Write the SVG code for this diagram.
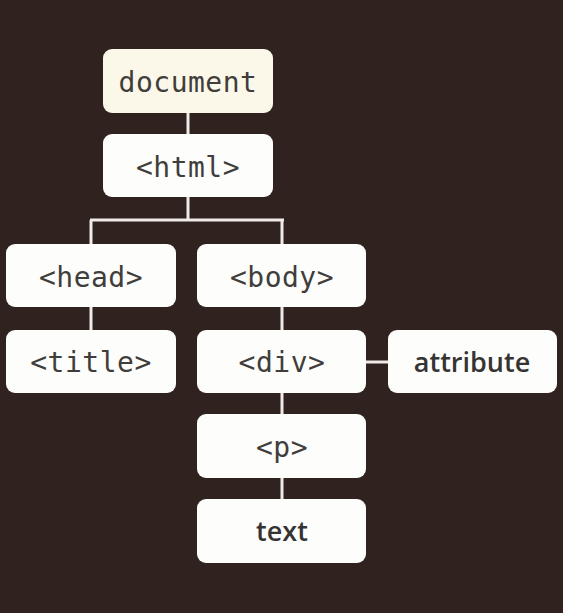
<svg xmlns="http://www.w3.org/2000/svg" width="563" height="613" viewBox="0 0 563 613">
<style>
.box{fill:#fdfdfb;}
.doc{fill:#fbf8e9;}
.mono{font-family:"DejaVu Sans Mono","Liberation Mono",monospace;font-size:28px;fill:#403d3b;text-anchor:middle;letter-spacing:0.5px;}
.sans{font-family:"Open Sans","Noto Sans",sans-serif;font-size:27px;font-weight:600;fill:#363433;text-anchor:middle;}
.con line{stroke:#efebe6;stroke-width:3;}
</style>
<rect x="0" y="0" width="563" height="613" fill="#30231f"/>
<g class="con" id="connectors">
<line x1="188" y1="112" x2="188" y2="135"/>
<line x1="188" y1="196" x2="188" y2="220"/>
<line x1="90" y1="220" x2="284" y2="220"/>
<line x1="91" y1="220" x2="91" y2="245"/>
<line x1="282" y1="220" x2="282" y2="245"/>
<line x1="91" y1="306" x2="91" y2="330"/>
<line x1="282" y1="306" x2="282" y2="331"/>
<line x1="365" y1="362" x2="389" y2="362"/>
<line x1="282" y1="392" x2="282" y2="415"/>
<line x1="282" y1="477" x2="282" y2="500"/>
</g>
<g id="document"><rect class="doc" x="103" y="49" width="170" height="64" rx="9"/><text class="mono" x="188" y="92">document</text></g>
<g id="html"><rect class="box" x="103" y="134" width="170" height="63" rx="9"/><text class="mono" x="188" y="177">&lt;html&gt;</text></g>
<g id="head"><rect class="box" x="6" y="244" width="170" height="63" rx="9"/><text class="mono" x="91" y="287">&lt;head&gt;</text></g>
<g id="body"><rect class="box" x="197" y="244" width="169" height="63" rx="9"/><text class="mono" x="282" y="287">&lt;body&gt;</text></g>
<g id="title"><rect class="box" x="6" y="330" width="170" height="63" rx="9"/><text class="mono" x="91" y="372">&lt;title&gt;</text></g>
<g id="div"><rect class="box" x="197" y="330" width="169" height="63" rx="9"/><text class="mono" x="282" y="372">&lt;div&gt;</text></g>
<g id="attribute"><rect class="box" x="388" y="330" width="169" height="63" rx="9"/><text class="sans" x="472" y="372">attribute</text></g>
<g id="p"><rect class="box" x="197" y="414" width="169" height="64" rx="9"/><text class="mono" x="282" y="457">&lt;p&gt;</text></g>
<g id="text"><rect class="box" x="197" y="499" width="169" height="64" rx="9"/><text class="sans" x="282" y="541">text</text></g>
</svg>
